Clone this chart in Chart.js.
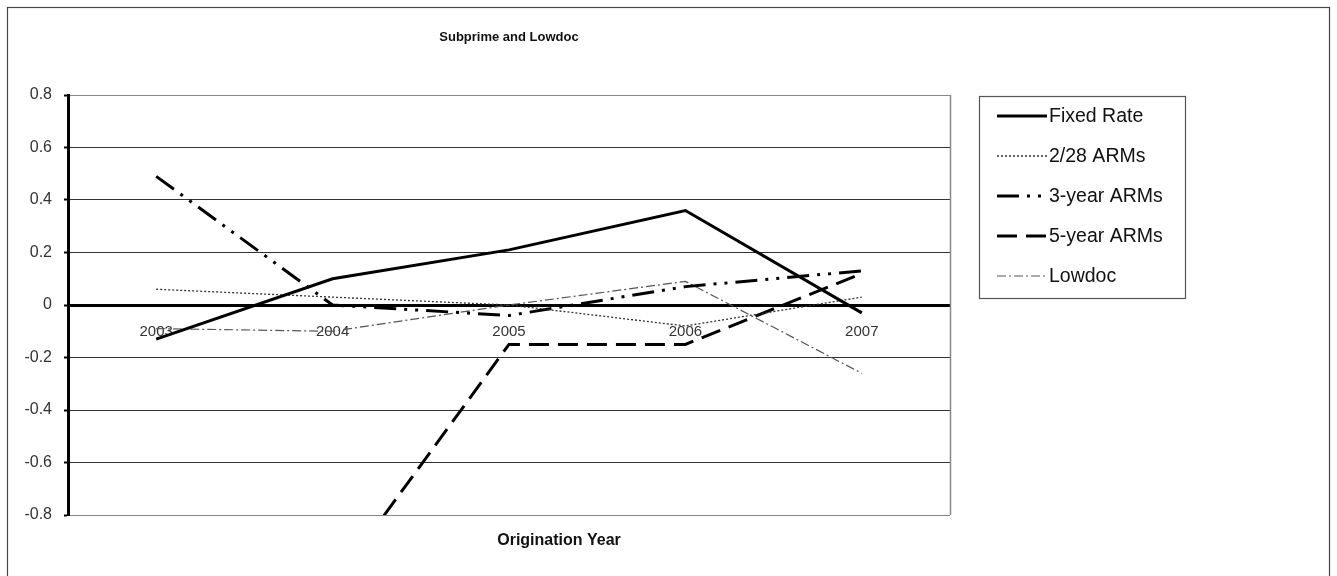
<!DOCTYPE html>
<html>
<head>
<meta charset="utf-8">
<script src="https://cdn.jsdelivr.net/npm/chart.js@4/dist/chart.umd.min.js"></script>
<style>
html,body{margin:0;padding:0;background:#fff;}
#wrap{position:relative;width:1337px;height:576px;}
</style>
</head>
<body>
<div id="wrap"><canvas id="c" width="1337" height="576"></canvas></div>
<script>
const categories = ['2003', '2004', '2005', '2006', '2007'];
const fixedRate  = [-0.13, 0.10, 0.21, 0.36, -0.03];
const arms228    = [0.06, 0.03, 0.00, -0.08, 0.03];
const arms3yr    = [0.49, 0.00, -0.04, 0.07, 0.13];
const arms5yr    = [null, -1.07, -0.15, -0.15, 0.12];
const lowdoc     = [-0.09, -0.10, 0.00, 0.09, -0.26];
const yTickValues = [-0.8, -0.6, -0.4, -0.2, 0, 0.2, 0.4, 0.6, 0.8];
const yTickLabels = ['-0.8', '-0.6', '-0.4', '-0.2', '0', '0.2', '0.4', '0.6', '0.8'];
const seriesNames = ['Fixed Rate', '2/28 ARMs', '3-year ARMs', '5-year ARMs', 'Lowdoc'];
const chartTitle = 'Subprime and Lowdoc';
const xAxisTitle = 'Origination Year';

const FONT = 'Arial, "Liberation Sans", sans-serif';

const decor = {
  id: 'decor',
  beforeDraw(chart) {
    const ctx = chart.ctx;
    ctx.save();
    ctx.fillStyle = '#fff';
    ctx.fillRect(0, 0, chart.width, chart.height);
    ctx.strokeStyle = '#444';
    ctx.lineWidth = 1.2;
    ctx.strokeRect(7.5, 7.5, 1322, 620);
    ctx.restore();
  },
  afterDraw(chart) {
    const ctx = chart.ctx;
    const ca = chart.chartArea;
    ctx.save();
    // plot area right edge
    ctx.strokeStyle = '#888';
    ctx.lineWidth = 1.5;
    ctx.beginPath();
    ctx.moveTo(ca.right + 0.5, ca.top);
    ctx.lineTo(ca.right + 0.5, ca.bottom);
    ctx.stroke();
    // x axis title
    ctx.fillStyle = '#111';
    ctx.font = 'bold 16px ' + FONT;
    ctx.textAlign = 'center';
    ctx.textBaseline = 'middle';
    ctx.fillText(xAxisTitle, (ca.left + ca.right) / 2 + 50, ca.bottom + 26);
    // legend box
    const bx = ca.right + 29, by = ca.top + 1, bw = 206, bh = 202;
    ctx.strokeStyle = '#555';
    ctx.lineWidth = 1.2;
    ctx.strokeRect(bx + 0.5, by + 0.5, bw, bh);
    ctx.font = '19.5px ' + FONT;
    ctx.textAlign = 'left';
    chart.data.datasets.forEach((ds, i) => {
      const yy = by + 20 + i * 40;
      ctx.save();
      ctx.strokeStyle = ds.borderColor;
      ctx.lineWidth = ds.borderWidth;
      ctx.setLineDash(ds.borderDash || []);
      ctx.beginPath();
      ctx.moveTo(bx + 18, yy);
      ctx.lineTo(bx + 68, yy);
      ctx.stroke();
      ctx.restore();
      ctx.fillStyle = '#111';
      ctx.fillText(ds.label, bx + 70, yy + 1);
    });
    ctx.restore();
  }
};

const mk = (label, data, color, width, dash) => ({
  label, data,
  borderColor: color, backgroundColor: color,
  borderWidth: width, borderDash: dash,
  pointRadius: 0, pointHoverRadius: 0,
  tension: 0, fill: false, spanGaps: false
});

new Chart(document.getElementById('c'), {
  type: 'line',
  data: {
    labels: categories,
    datasets: [
      mk(seriesNames[0], fixedRate, '#000', 3, []),
      mk(seriesNames[1], arms228, '#333', 1.3, [2, 2]),
      mk(seriesNames[2], arms3yr, '#000', 3, [22, 8, 3, 8, 3, 8]),
      mk(seriesNames[3], arms5yr, '#000', 3, [20, 9]),
      mk(seriesNames[4], lowdoc, '#555', 1.2, [9, 3, 2, 3])
    ]
  },
  options: {
    responsive: false,
    animation: false,
    events: [],
    layout: { padding: { left: 8, right: 387, top: 20, bottom: 61 } },
    plugins: {
      legend: { display: false },
      tooltip: { enabled: false },
      title: {
        display: true, text: chartTitle, fullSize: false, color: '#111',
        font: { family: FONT, size: 13, weight: 'bold', lineHeight: 1.2 },
        padding: { top: 9.2, bottom: 50.2 }
      }
    },
    scales: {
      x: {
        type: 'category',
        offset: true,
        position: { y: 0 },
        grid: { display: false, drawTicks: false },
        border: { display: true, color: '#000', width: 3 },
        ticks: { color: '#333', font: { family: FONT, size: 15 }, padding: 18, maxRotation: 0, autoSkip: false }
      },
      y: {
        min: -0.8, max: 0.8,
        afterBuildTicks: s => { s.ticks = yTickValues.map(v => ({ value: v })); },
        afterFit: s => { s.width = 60; },
        grid: {
          color: c => (c.tick && Math.abs(Math.abs(c.tick.value) - 0.8) < 1e-9) ? '#888' : '#333',
          lineWidth: 1, drawTicks: true, tickLength: 4, tickColor: '#000', tickWidth: 2
        },
        border: { display: true, color: '#000', width: 3 },
        ticks: {
          color: '#333', font: { family: FONT, size: 16 }, padding: 12,
          callback: (v, i) => yTickLabels[yTickValues.findIndex(t => Math.abs(t - v) < 1e-9)]
        }
      }
    }
  },
  plugins: [decor]
});
</script>
</body>
</html>
